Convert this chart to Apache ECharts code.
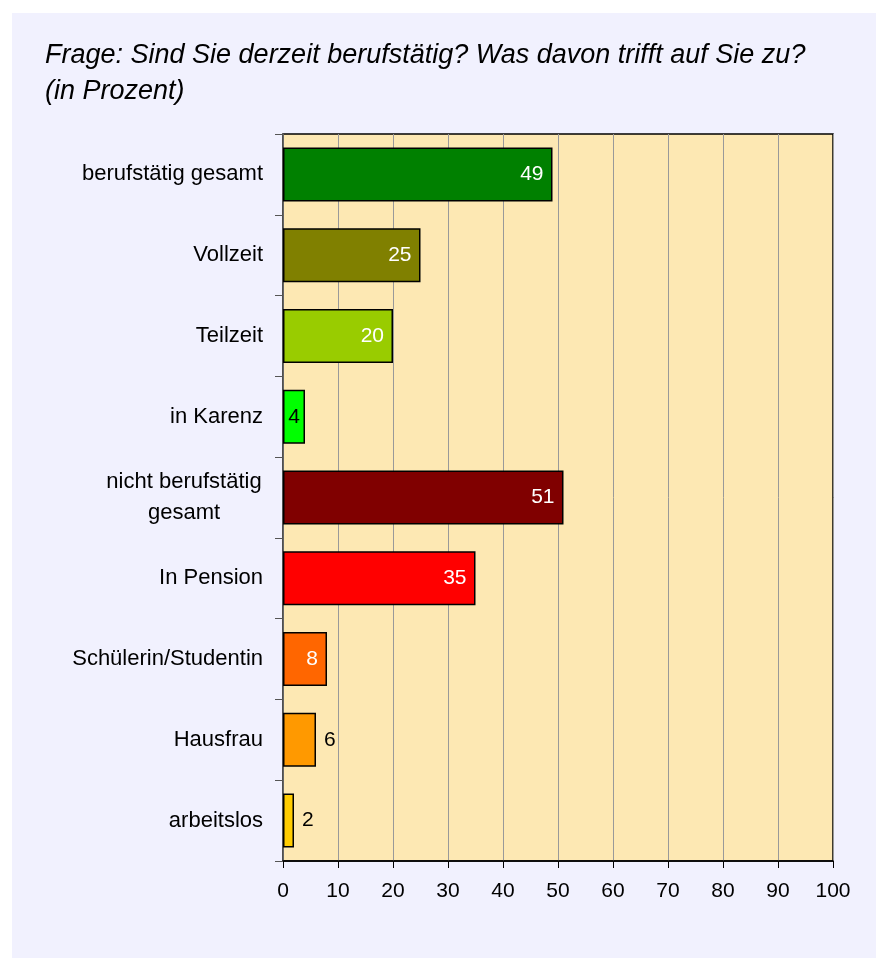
<!DOCTYPE html>
<html>
<head>
<meta charset="utf-8">
<script src="https://cdn.jsdelivr.net/npm/echarts@6/dist/echarts.min.js"></script>
<style>
  html, body { margin: 0; padding: 0; background: #fff; }
  #panel { position: absolute; left: 12px; top: 13px; right: 0; bottom: 0; background: #F1F1FE; }
  #chart { position: absolute; left: 0; top: 0; width: 876px; height: 958px; }
</style>
</head>
<body>
<div id="panel"></div>
<div id="chart"></div>
<script>
// Kategorien von oben nach unten
const categories = [
  'berufstätig gesamt',
  'Vollzeit',
  'Teilzeit',
  'in Karenz',
  'nicht berufstätig\ngesamt',
  'In Pension',
  'Schülerin/Studentin',
  'Hausfrau',
  'arbeitslos'
];
const values = [49, 25, 20, 4, 51, 35, 8, 6, 2];
const barColors = ['#008000', '#808000', '#99CC00', '#00FF00', '#800000', '#FF0000', '#FF6600', '#FF9900', '#FFCC00'];
const xTicks = [0, 10, 20, 30, 40, 50, 60, 70, 80, 90, 100];

const font = '"Liberation Sans", Arial, sans-serif';

function labelFor(v) {
  if (v >= 8) {
    return { show: true, position: 'insideRight', distance: 9, color: '#fff' };
  }
  if (v === 4) {
    return { show: true, position: 'inside', color: '#000' };
  }
  return { show: true, position: 'right', distance: 8, color: '#000' };
}

const chart = echarts.init(document.getElementById('chart'));

const option = {
  backgroundColor: 'transparent',
  animation: false,
  title: {
    text: 'Frage: Sind Sie derzeit berufstätig? Was davon trifft auf Sie zu?\n(in Prozent)',
    left: 40,
    top: 32,
    textStyle: {
      fontFamily: font,
      fontStyle: 'italic',
      fontWeight: 'normal',
      fontSize: 27,
      lineHeight: 36,
      color: '#000'
    }
  },
  grid: {
    left: 283,
    top: 134,
    right: 43,
    bottom: 97,
    show: true,
    backgroundColor: '#FDE8B3',
    borderColor: '#000',
    borderWidth: 1.5
  },
  xAxis: {
    type: 'value',
    min: xTicks[0],
    max: xTicks[xTicks.length - 1],
    interval: 10,
    axisLine: { show: true, lineStyle: { color: '#000', width: 1.5 } },
    axisTick: { show: true, length: 7, lineStyle: { color: '#000' } },
    splitLine: { show: true, lineStyle: { color: '#999', width: 1 } },
    axisLabel: {
      margin: 20,
      fontFamily: font,
      fontSize: 21,
      color: '#000'
    }
  },
  yAxis: {
    type: 'category',
    inverse: true,
    data: categories,
    axisLine: { show: true, lineStyle: { color: '#555', width: 1.5 } },
    axisTick: { show: true, length: 8, lineStyle: { color: '#555' } },
    axisLabel: {
      margin: 20,
      fontFamily: font,
      fontSize: 22,
      lineHeight: 31,
      color: '#000',
      formatter: function (v) {
        if (v.indexOf('\n') < 0) return v;
        return v.split('\n').map(function (s) { return '{c|' + s + '}'; }).join('\n');
      },
      rich: {
        c: { width: 158, align: 'center', fontFamily: font, fontSize: 22, lineHeight: 31, color: '#000' }
      }
    }
  },
  series: [{
    type: 'bar',
    barWidth: 54,
    data: values.map(function (v, i) {
      return {
        value: v,
        itemStyle: { color: barColors[i], borderColor: '#000', borderWidth: 1.5 },
        label: labelFor(v)
      };
    }),
    label: {
      fontFamily: font,
      fontSize: 21
    }
  }]
};

chart.setOption(option);
</script>
</body>
</html>
